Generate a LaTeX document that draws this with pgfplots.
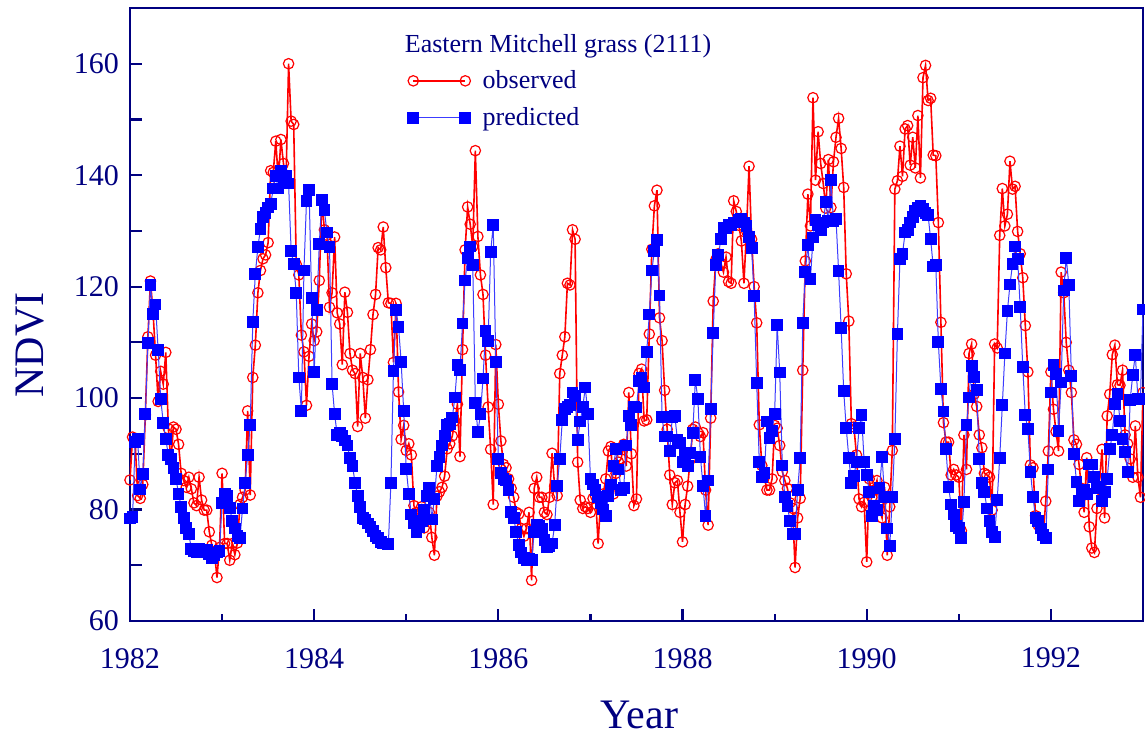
\documentclass[border=0pt]{standalone}
\usepackage{fontspec}
\setmainfont{Liberation Serif}
\usepackage{pgfplots}
\usepackage{pgfplotstable}
\pgfplotsset{compat=1.18}
\definecolor{navy}{RGB}{0,0,128}
\definecolor{predline}{RGB}{60,60,255}
\definecolor{obsred}{RGB}{255,0,0}
\definecolor{predblue}{RGB}{0,0,255}

% observed NDVI, 36 composites per year from 1982.0
\pgfplotstableread[row sep=\\]{y\\
85.3\\ 93.0\\ 92.4\\ 82.5\\ 82.0\\ 84.5\\ 97.0\\ 111.0\\ 121.0\\ 115.5\\ 107.7\\ 99.4\\ 104.8\\ 102.5\\ 108.2\\ 94.5\\ 88.8\\ 94.8\\ 94.4\\ 91.7\\ 86.5\\ 85.2\\ 84.0\\ 85.8\\ 83.7\\ 81.2\\ 80.7\\ 85.8\\ 81.7\\ 79.9\\ 79.9\\ 76.0\\ 73.6\\ 72.5\\ 67.8\\ 73.2\\
86.5\\ 73.9\\ 73.9\\ 70.9\\ 73.9\\ 71.9\\ 74.0\\ 80.9\\ 82.2\\ 83.5\\ 97.7\\ 82.6\\ 103.7\\ 109.5\\ 118.9\\ 122.9\\ 125.0\\ 125.7\\ 127.9\\ 140.8\\ 140.5\\ 146.1\\ 139.1\\ 146.4\\ 142.1\\ 139.1\\ 160.0\\ 149.7\\ 149.1\\ 124.0\\ 122.1\\ 111.3\\ 108.3\\ 98.7\\ 107.5\\ 113.3\\
110.3\\ 111.9\\ 121.1\\ 135.5\\ 130.2\\ 129.2\\ 116.3\\ 118.9\\ 128.9\\ 115.3\\ 113.3\\ 106.0\\ 119.0\\ 115.4\\ 108.0\\ 105.0\\ 104.4\\ 94.9\\ 108.0\\ 103.7\\ 96.4\\ 103.3\\ 108.7\\ 115.0\\ 118.6\\ 127.0\\ 126.6\\ 130.7\\ 123.4\\ 117.1\\ 117.0\\ 106.4\\ 117.0\\ 101.1\\ 92.6\\ 95.1\\
90.6\\ 91.8\\ 89.8\\ 80.7\\ 79.5\\ 78.9\\ 80.5\\ 76.7\\ 78.2\\ 79.5\\ 75.0\\ 71.8\\ 82.4\\ 83.2\\ 84.0\\ 86.0\\ 90.9\\ 91.8\\ 93.2\\ 95.9\\ 98.9\\ 89.5\\ 108.7\\ 126.6\\ 134.3\\ 131.2\\ 127.2\\ 144.4\\ 129.0\\ 122.1\\ 118.6\\ 107.7\\ 98.4\\ 90.8\\ 80.9\\ 109.6\\
98.9\\ 92.3\\ 88.1\\ 87.5\\ 85.5\\ 83.8\\ 82.2\\ 79.5\\ 79.2\\ 76.6\\ 75.2\\ 76.6\\ 79.5\\ 67.3\\ 83.8\\ 85.8\\ 82.2\\ 82.2\\ 79.5\\ 79.1\\ 82.2\\ 90.1\\ 84.2\\ 82.5\\ 104.4\\ 107.7\\ 111.0\\ 120.6\\ 120.3\\ 130.2\\ 128.5\\ 88.5\\ 81.7\\ 80.2\\ 80.5\\ 80.2\\
79.5\\ 82.0\\ 82.4\\ 73.9\\ 81.9\\ 82.8\\ 85.5\\ 90.5\\ 91.3\\ 82.8\\ 86.5\\ 88.5\\ 89.1\\ 91.7\\ 87.8\\ 101.0\\ 90.0\\ 80.7\\ 81.9\\ 104.4\\ 105.2\\ 95.9\\ 96.1\\ 111.5\\ 126.7\\ 134.5\\ 137.3\\ 114.4\\ 110.3\\ 101.4\\ 94.4\\ 86.2\\ 80.9\\ 84.8\\ 85.2\\ 79.5\\
74.2\\ 80.9\\ 84.2\\ 89.0\\ 94.4\\ 94.8\\ 93.8\\ 93.1\\ 93.8\\ 83.5\\ 77.2\\ 96.4\\ 117.4\\ 124.8\\ 125.9\\ 124.2\\ 122.6\\ 125.3\\ 120.9\\ 120.6\\ 135.4\\ 133.5\\ 131.0\\ 128.2\\ 120.6\\ 130.0\\ 141.6\\ 128.5\\ 120.0\\ 113.5\\ 95.2\\ 87.9\\ 85.8\\ 83.5\\ 83.5\\ 85.5\\
95.1\\ 94.6\\ 91.5\\ 86.8\\ 85.2\\ 83.8\\ 81.2\\ 80.2\\ 69.6\\ 78.5\\ 82.0\\ 105.0\\ 124.6\\ 136.6\\ 130.9\\ 153.9\\ 139.1\\ 147.8\\ 142.1\\ 138.5\\ 134.1\\ 142.8\\ 134.2\\ 142.4\\ 146.8\\ 150.2\\ 144.8\\ 137.8\\ 122.3\\ 113.8\\ 95.4\\ 94.8\\ 89.8\\ 81.9\\ 80.5\\ 81.3\\
70.6\\ 85.5\\ 82.2\\ 83.5\\ 85.2\\ 80.0\\ 78.5\\ 84.0\\ 71.8\\ 80.5\\ 90.6\\ 137.5\\ 139.0\\ 145.2\\ 139.8\\ 148.3\\ 148.9\\ 141.8\\ 146.8\\ 141.3\\ 150.7\\ 139.5\\ 157.5\\ 159.7\\ 153.4\\ 153.8\\ 143.6\\ 143.5\\ 131.5\\ 113.6\\ 95.6\\ 92.1\\ 92.1\\ 86.2\\ 87.2\\ 86.2\\
85.8\\ 76.2\\ 93.4\\ 87.2\\ 108.0\\ 109.7\\ 100.7\\ 98.5\\ 93.4\\ 91.1\\ 86.5\\ 86.2\\ 85.8\\ 79.9\\ 109.7\\ 109.0\\ 129.2\\ 137.6\\ 130.9\\ 133.0\\ 142.5\\ 137.5\\ 138.0\\ 129.9\\ 125.9\\ 121.6\\ 113.0\\ 104.7\\ 88.0\\ 87.5\\ 78.9\\ 77.2\\ 76.6\\ 75.5\\ 81.5\\ 90.5\\
104.7\\ 98.0\\ 94.0\\ 90.5\\ 122.6\\ 118.9\\ 110.0\\ 105.0\\ 101.0\\ 92.5\\ 91.7\\ 88.1\\ 83.8\\ 79.5\\ 89.3\\ 76.9\\ 73.1\\ 72.3\\ 80.2\\ 85.0\\ 90.8\\ 78.5\\ 96.8\\ 100.7\\ 107.8\\ 109.5\\ 102.4\\ 102.3\\ 105.0\\ 93.4\\ 91.8\\ 89.1\\ 85.8\\ 95.0\\ 85.8\\ 82.2\\ 101.0\\
}\obs

% predicted NDVI
\pgfplotstableread[row sep=\\]{y\\
78.4\\ 78.6\\ 92.1\\ 92.6\\ 83.6\\ 86.4\\ 97.1\\ 109.9\\ 120.3\\ 115.1\\ 116.8\\ 108.7\\ 99.9\\ 95.6\\ 92.6\\ 89.8\\ 89.1\\ 87.5\\ 85.5\\ 82.8\\ 80.5\\ 78.5\\ 76.7\\ 75.6\\ 72.9\\ 72.6\\ 72.3\\ 72.9\\ 72.6\\ 72.4\\ 72.8\\ 72.0\\ 71.3\\ 71.8\\ 72.3\\ 72.5\\
81.2\\ 82.8\\ 82.5\\ 80.3\\ 77.9\\ 76.6\\ 75.2\\ 74.9\\ 80.2\\ 84.7\\ 89.8\\ 95.1\\ 113.6\\ 122.3\\ 127.1\\ 130.4\\ 132.5\\ 133.2\\ 134.2\\ 134.8\\ 137.6\\ 139.8\\ 137.6\\ 140.8\\ 139.5\\ 139.8\\ 138.5\\ 126.4\\ 124.0\\ 118.8\\ 103.7\\ 97.7\\ 122.9\\ 135.4\\ 137.3\\ 117.9\\
104.7\\ 115.8\\ 127.7\\ 135.5\\ 133.7\\ 129.7\\ 127.1\\ 102.5\\ 97.1\\ 93.4\\ 93.8\\ 93.2\\ 92.4\\ 91.5\\ 89.3\\ 87.8\\ 84.8\\ 82.5\\ 80.5\\ 78.5\\ 78.2\\ 77.5\\ 76.8\\ 76.2\\ 75.2\\ 74.9\\ 74.2\\ 73.9\\ 73.9\\ 73.8\\ 84.8\\ 104.9\\ 115.8\\ 112.8\\ 106.5\\ 97.7\\
87.3\\ 82.8\\ 79.1\\ 77.5\\ 75.9\\ 76.9\\ 77.9\\ 79.9\\ 82.5\\ 83.8\\ 78.2\\ 81.9\\ 87.8\\ 89.5\\ 91.5\\ 93.2\\ 95.1\\ 95.4\\ 96.5\\ 100.1\\ 106.0\\ 105.0\\ 113.4\\ 121.1\\ 125.1\\ 127.2\\ 123.9\\ 99.1\\ 93.9\\ 97.1\\ 103.5\\ 112.1\\ 110.3\\ 126.2\\ 131.1\\ 106.5\\
89.1\\ 86.5\\ 85.5\\ 85.2\\ 83.5\\ 79.5\\ 78.5\\ 75.9\\ 73.6\\ 72.3\\ 71.3\\ 71.0\\ 71.2\\ 70.9\\ 75.9\\ 77.2\\ 77.0\\ 76.6\\ 74.6\\ 73.2\\ 73.5\\ 73.9\\ 77.2\\ 84.2\\ 89.1\\ 96.1\\ 98.1\\ 98.4\\ 98.7\\ 101.0\\ 100.4\\ 92.5\\ 95.8\\ 98.4\\ 101.9\\ 97.1\\
85.5\\ 84.5\\ 83.5\\ 82.2\\ 81.2\\ 80.0\\ 78.9\\ 82.5\\ 84.5\\ 87.8\\ 90.8\\ 87.2\\ 83.5\\ 83.8\\ 91.5\\ 96.8\\ 95.2\\ 98.4\\ 98.3\\ 103.0\\ 103.7\\ 101.9\\ 108.3\\ 115.0\\ 122.9\\ 126.4\\ 128.4\\ 118.4\\ 96.6\\ 93.1\\ 93.1\\ 90.5\\ 96.6\\ 96.8\\ 92.5\\ 91.9\\
88.5\\ 89.8\\ 87.8\\ 90.1\\ 93.8\\ 103.2\\ 99.9\\ 89.5\\ 84.2\\ 78.9\\ 85.2\\ 98.0\\ 111.7\\ 123.9\\ 125.7\\ 128.5\\ 130.5\\ 130.5\\ 131.0\\ 131.0\\ 131.5\\ 131.5\\ 132.0\\ 132.2\\ 131.5\\ 130.9\\ 128.9\\ 127.0\\ 118.3\\ 102.7\\ 88.5\\ 85.8\\ 86.5\\ 95.8\\ 92.8\\ 94.1\\
97.1\\ 113.1\\ 104.6\\ 87.9\\ 82.2\\ 80.7\\ 77.9\\ 75.6\\ 75.6\\ 83.5\\ 89.3\\ 113.5\\ 122.6\\ 127.5\\ 121.3\\ 128.8\\ 132.0\\ 131.0\\ 130.2\\ 131.5\\ 135.2\\ 131.8\\ 139.1\\ 131.8\\ 132.2\\ 122.8\\ 112.6\\ 101.3\\ 94.6\\ 89.3\\ 84.7\\ 86.0\\ 88.6\\ 94.6\\ 96.9\\ 88.6\\
86.2\\ 83.2\\ 78.9\\ 80.7\\ 79.9\\ 83.8\\ 89.5\\ 82.2\\ 76.6\\ 73.4\\ 82.2\\ 92.6\\ 111.5\\ 125.0\\ 125.9\\ 129.7\\ 130.2\\ 131.5\\ 132.5\\ 133.5\\ 134.2\\ 134.5\\ 134.0\\ 133.2\\ 132.8\\ 128.5\\ 123.6\\ 123.9\\ 110.0\\ 101.7\\ 97.6\\ 90.8\\ 84.0\\ 80.9\\ 79.1\\ 77.1\\
76.7\\ 74.9\\ 81.3\\ 95.2\\ 100.1\\ 105.8\\ 103.8\\ 101.4\\ 89.0\\ 84.8\\ 83.2\\ 80.2\\ 78.0\\ 76.0\\ 75.1\\ 81.7\\ 89.3\\ 98.7\\ 108.0\\ 115.6\\ 120.4\\ 124.0\\ 127.2\\ 124.9\\ 116.3\\ 105.6\\ 96.9\\ 94.4\\ 86.8\\ 82.2\\ 78.5\\ 77.9\\ 76.6\\ 75.5\\ 74.9\\ 87.2\\
101.0\\ 106.0\\ 104.3\\ 94.1\\ 102.8\\ 119.3\\ 125.2\\ 120.3\\ 104.0\\ 89.9\\ 85.0\\ 81.5\\ 83.2\\ 83.5\\ 82.8\\ 88.1\\ 88.1\\ 85.8\\ 83.8\\ 84.0\\ 81.5\\ 83.2\\ 85.5\\ 90.8\\ 93.4\\ 99.0\\ 100.7\\ 95.9\\ 92.6\\ 90.3\\ 86.8\\ 99.7\\ 104.2\\ 107.8\\ 99.9\\ 99.9\\ 115.9\\
}\pred

\begin{document}
\begin{tikzpicture}
\begin{axis}[
  scale only axis,
  width=506.5pt, height=306.5pt,
  xmin=1982, xmax=1993, ymin=60, ymax=170,
  xtick={1982,1984,1986,1988,1990,1992},
  minor xtick={1983,1985,1987,1989,1991,1993},
  ytick={60,70,...,170},
  yticklabels={60,,80,,100,,120,,140,,160,},
  tick pos=left,
  tick align=inside,
  major tick length=6pt, minor tick length=3.5pt,
  axis line style={navy, line width=1.2pt},
  every tick/.style={navy, line width=1.1pt},
  /pgf/number format/assume math mode=true,
  /pgf/number format/set thousands separator={},
  tick label style={font=\fontsize{15}{15}\selectfont, text=navy},
  xticklabel style={yshift=-10pt},
  yticklabel style={xshift=-2pt},
  xlabel={Year}, ylabel={NDVI},
  xlabel style={at={(axis description cs:0.503,-0.153)}, anchor=center, font=\fontsize{21}{21}\selectfont, text=navy},
  ylabel style={at={(axis description cs:-0.099,0.45)}, anchor=center, rotate=0, font=\fontsize{21}{21}\selectfont, text=navy},
  legend image code/.code={\draw[mark repeat=2, mark phase=1, #1] plot coordinates {(0pt,0pt) (13pt,0pt) (26pt,0pt)};},
  legend style={at={(rel axis cs:0.268,0.912)}, anchor=north west, draw=none, fill=none,
    font=\fontsize{13}{13}\selectfont, text=navy, row sep=4pt, column sep=4pt,
    nodes={inner sep=2pt}},
  legend cell align=left,
  clip mode=individual,
]
\addplot[obsred, line width=0.8pt, mark=o, mark size=2.6pt,
  mark options={solid, fill=white, draw=obsred, line width=0.6pt}]
  table[x expr={1982+\coordindex/36}, y=y]{\obs};
\addlegendentry{observed}
\addplot[predline, line width=0.5pt, mark=square*, mark size=2.7pt,
  mark options={solid, fill=predblue, draw=predblue}]
  table[x expr={1982+\coordindex/36}, y=y]{\pred};
\addlegendentry{predicted}
\node[anchor=west, font=\fontsize{13}{13}\selectfont, text=navy, inner sep=0pt] at (rel axis cs:0.271,0.937) {Eastern Mitchell grass (2111)};
\coordinate (bbsw) at (rel axis cs:0,0);
\coordinate (bbne) at (rel axis cs:1,1);
\end{axis}
\pgfresetboundingbox
\path[use as bounding box] ([shift={(-65pt,-58.5pt)}]bbsw) rectangle ([shift={(1pt,4pt)}]bbne);
\end{tikzpicture}
\end{document}
